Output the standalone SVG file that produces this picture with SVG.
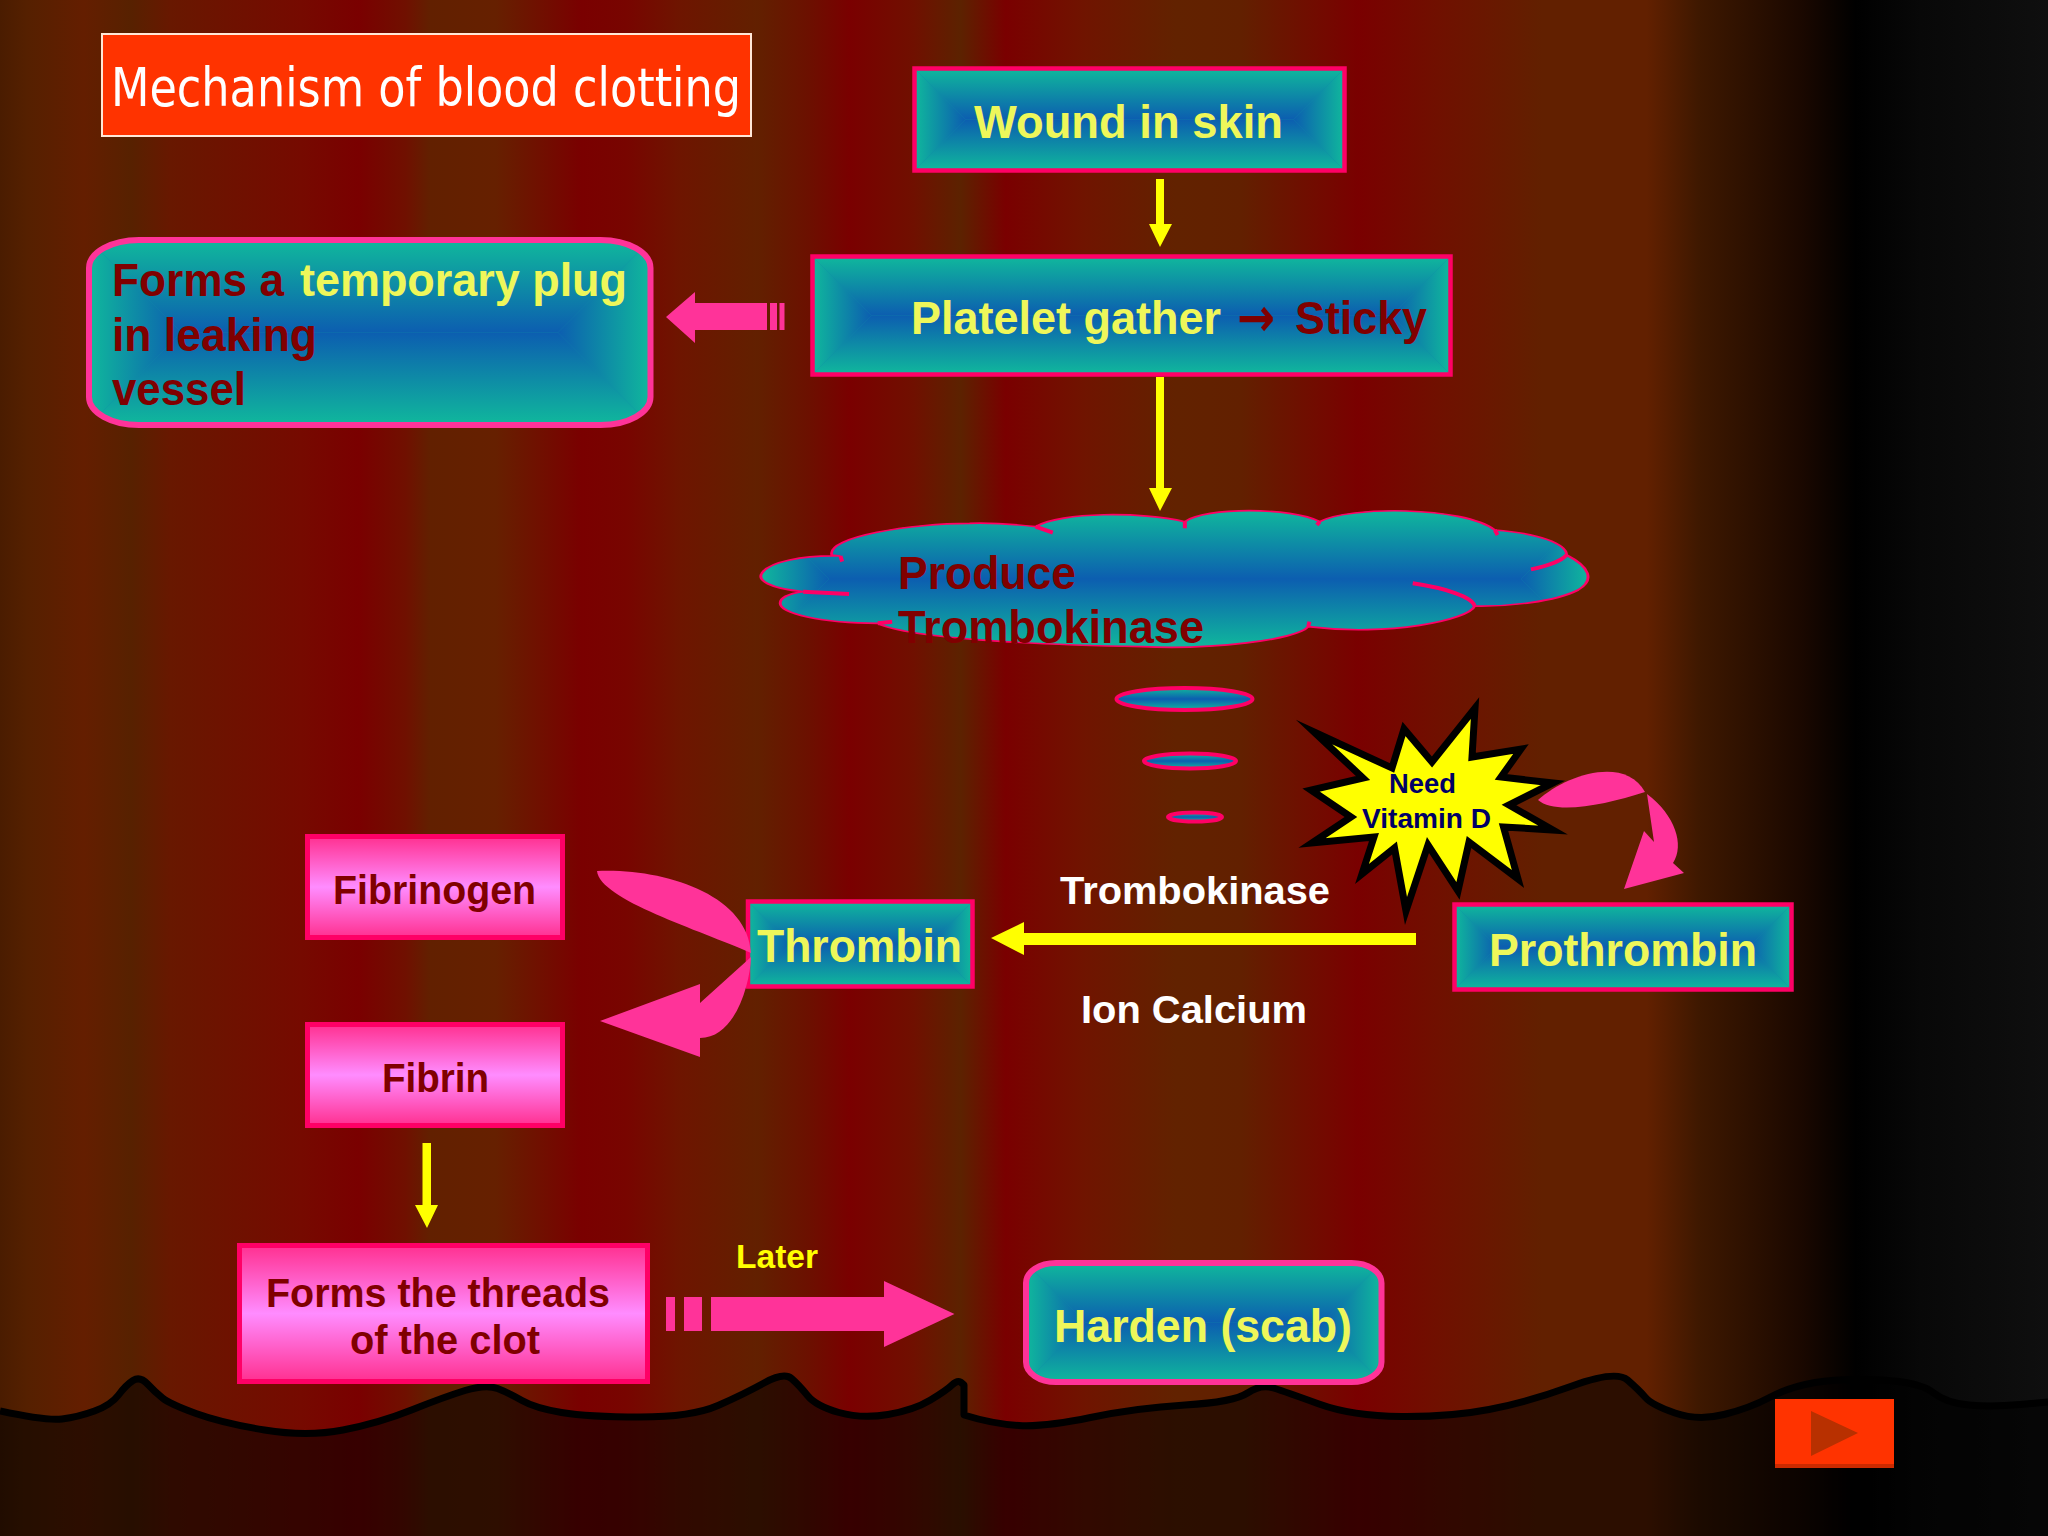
<svg xmlns="http://www.w3.org/2000/svg" width="2048" height="1536" viewBox="0 0 2048 1536">
<defs>
<linearGradient id="bg" x1="0" y1="0" x2="1" y2="0">
<stop offset="0" stop-color="#4a1c00"/><stop offset=".013" stop-color="#552000"/><stop offset=".041" stop-color="#641e00"/><stop offset=".064" stop-color="#572100"/><stop offset=".083" stop-color="#681800"/><stop offset=".147" stop-color="#760a00"/><stop offset=".175" stop-color="#7a0000"/><stop offset=".198" stop-color="#701000"/><stop offset=".21" stop-color="#622000"/><stop offset=".242" stop-color="#662000"/><stop offset=".284" stop-color="#7a0000"/><stop offset=".306" stop-color="#780500"/><stop offset=".332" stop-color="#6e1500"/><stop offset=".37" stop-color="#622000"/><stop offset=".395" stop-color="#6c1000"/><stop offset=".415" stop-color="#7a0000"/><stop offset=".446" stop-color="#701000"/><stop offset=".469" stop-color="#5c2200"/><stop offset=".491" stop-color="#7a0000"/><stop offset=".529" stop-color="#701400"/><stop offset=".574" stop-color="#622200"/><stop offset=".606" stop-color="#622000"/><stop offset=".638" stop-color="#700e00"/><stop offset=".663" stop-color="#7a0000"/><stop offset=".702" stop-color="#701000"/><stop offset=".753" stop-color="#622000"/><stop offset=".804" stop-color="#622000"/><stop offset=".83" stop-color="#3e1800"/><stop offset=".88" stop-color="#1a0800"/><stop offset=".906" stop-color="#000"/><stop offset=".938" stop-color="#080808"/><stop offset="1" stop-color="#0f0f0f"/>
</linearGradient>
<linearGradient id="gT" x1="0" y1="0" x2="0" y2="1"><stop offset="0" stop-color="#10b89c"/><stop offset="1" stop-color="#0c5eb0"/></linearGradient>
<linearGradient id="gB" x1="0" y1="1" x2="0" y2="0"><stop offset="0" stop-color="#10b89c"/><stop offset="1" stop-color="#0c5eb0"/></linearGradient>
<linearGradient id="gL" x1="0" y1="0" x2="1" y2="0"><stop offset="0" stop-color="#10b89c"/><stop offset="1" stop-color="#0c5eb0"/></linearGradient>
<linearGradient id="gR" x1="1" y1="0" x2="0" y2="0"><stop offset="0" stop-color="#10b89c"/><stop offset="1" stop-color="#0c5eb0"/></linearGradient>
<linearGradient id="gV" x1="0" y1="0" x2="0" y2="1"><stop offset="0" stop-color="#10b89c"/><stop offset=".5" stop-color="#0c5eb0"/><stop offset="1" stop-color="#10b89c"/></linearGradient>
<linearGradient id="pk" x1="0" y1="0" x2="0" y2="1"><stop offset="0" stop-color="#ff3090"/><stop offset=".5" stop-color="#ff8cff"/><stop offset="1" stop-color="#ff3090"/></linearGradient>
<path id="cloudShape" transform="translate(740,480) scale(.574,.33333)" d="M160,225 C150,170 300,130 400,130 C440,128 490,135 515,140 C560,95 700,95 775,125 C810,81 960,81 1010,125 C1060,78 1260,78 1315,150 C1390,160 1440,190 1440,225 C1480,260 1490,300 1460,330 C1420,365 1340,380 1280,378 C1270,420 1130,470 990,440 C970,480 820,510 700,500 C550,495 300,480 240,430 C140,430 70,400 70,370 C70,350 90,340 110,335 C50,325 30,300 38,280 C50,245 110,225 175,228 Z"/>
<clipPath id="cloudClip"><use href="#cloudShape"/></clipPath>
<clipPath id="plugClip"><rect x="89" y="240" width="561.5" height="185" rx="50" ry="28"/></clipPath>
<clipPath id="hardenClip"><rect x="1026" y="1263" width="355.5" height="119" rx="30" ry="20"/></clipPath>
</defs>
<style>
.t{fill:url(#gT)}.b{fill:url(#gB)}.l{fill:url(#gL)}.r{fill:url(#gR)}
.base{fill:#0e8ca6}
.edge{fill:none;stroke:#ff0066;stroke-width:4.5}
.pedge{fill:none;stroke:#ff3399;stroke-width:6}
.pink{fill:url(#pk);stroke:#ff0066;stroke-width:5}
.oval{fill:url(#gV);stroke:#ff0066;stroke-width:4}
.yarrow{fill:#ffff00}
.parrow{fill:#ff3399}
text{font-family:"Liberation Sans",Arial,sans-serif;font-weight:700}
.f45{font-size:46px}.f40{font-size:41px}.f38{font-size:39px}.f32{font-size:33px}.f28{font-size:28px}
.y{fill:#eef75a}.m{fill:#800000}.w{fill:#fff}.n{fill:#000066}.yy{fill:#ffff00}
</style>
<rect width="2048" height="1536" fill="url(#bg)"/>
<g id="ground">
<path d="M0,1411 Q46,1421 62,1419 Q78,1417 94.5,1411 Q111,1405 118.5,1395 Q126,1385 133,1380.5 Q140,1376 147.5,1384 Q155,1392 162.5,1398 Q170,1404 196,1413.5 Q222,1423 264.5,1430 Q307,1437 343,1430 Q379,1423 411.5,1410 Q444,1397 465,1390.5 Q486,1384 497.5,1388.5 Q509,1393 522,1400.5 Q535,1408 561.5,1412.5 Q588,1417 640,1417 Q692,1417 718,1405.5 Q744,1394 764,1383 Q784,1372 791.5,1378.5 Q799,1385 807.5,1395.5 Q816,1406 839,1412.5 Q862,1419 888,1414.5 Q914,1410 930.5,1400 Q947,1390 952,1385 Q957,1380 960.5,1382 L964,1385 L964,1415 Q993,1424 1019,1425.5 Q1045,1427 1090.5,1417.5 Q1136,1408 1185,1405 Q1234,1402 1247.5,1393 Q1261,1384 1273.5,1388 Q1286,1392 1319,1404 Q1352,1416 1401,1416.5 Q1450,1417 1489,1409.5 Q1528,1402 1572,1386 Q1616,1370 1627.5,1380 Q1639,1390 1645.5,1397.5 Q1652,1405 1675,1413 Q1698,1421 1724,1414.5 Q1750,1408 1769.5,1397.5 Q1789,1387 1815,1382.5 Q1841,1378 1880.5,1380 Q1920,1382 1933,1392.5 Q1946,1403 1969,1405 Q1992,1407 2020,1404.5 L2048,1402 L2048,1536 L0,1536 Z" fill="#000" fill-opacity=".55"/>
<path d="M0,1411 Q46,1421 62,1419 Q78,1417 94.5,1411 Q111,1405 118.5,1395 Q126,1385 133,1380.5 Q140,1376 147.5,1384 Q155,1392 162.5,1398 Q170,1404 196,1413.5 Q222,1423 264.5,1430 Q307,1437 343,1430 Q379,1423 411.5,1410 Q444,1397 465,1390.5 Q486,1384 497.5,1388.5 Q509,1393 522,1400.5 Q535,1408 561.5,1412.5 Q588,1417 640,1417 Q692,1417 718,1405.5 Q744,1394 764,1383 Q784,1372 791.5,1378.5 Q799,1385 807.5,1395.5 Q816,1406 839,1412.5 Q862,1419 888,1414.5 Q914,1410 930.5,1400 Q947,1390 952,1385 Q957,1380 960.5,1382 L964,1385 L964,1415 Q993,1424 1019,1425.5 Q1045,1427 1090.5,1417.5 Q1136,1408 1185,1405 Q1234,1402 1247.5,1393 Q1261,1384 1273.5,1388 Q1286,1392 1319,1404 Q1352,1416 1401,1416.5 Q1450,1417 1489,1409.5 Q1528,1402 1572,1386 Q1616,1370 1627.5,1380 Q1639,1390 1645.5,1397.5 Q1652,1405 1675,1413 Q1698,1421 1724,1414.5 Q1750,1408 1769.5,1397.5 Q1789,1387 1815,1382.5 Q1841,1378 1880.5,1380 Q1920,1382 1933,1392.5 Q1946,1403 1969,1405 Q1992,1407 2020,1404.5 L2048,1402" fill="none" stroke="#000" stroke-width="7" stroke-linejoin="round"/>
</g>

<g id="title">
<rect x="102" y="34" width="649" height="102" fill="#ff3300" stroke="#ffe8d8" stroke-width="2"/>
<text x="111" y="106" font-size="53" textLength="630" lengthAdjust="spacingAndGlyphs" class="w" style="font-family:'DejaVu Sans',sans-serif;font-weight:400">Mechanism of blood clotting</text>
</g>

<g id="wound">
<rect class="base" x="914.5" y="68.5" width="430" height="102"/>
<polygon class="t" points="914.5,68.5 1344.5,68.5 1293.5,119.5 965.5,119.5"/>
<polygon class="b" points="914.5,170.5 1344.5,170.5 1293.5,119.5 965.5,119.5"/>
<polygon class="l" points="914.5,68.5 965.5,119.5 914.5,170.5"/>
<polygon class="r" points="1344.5,68.5 1293.5,119.5 1344.5,170.5"/>
<rect class="edge" x="914.5" y="68.5" width="430" height="102"/>
<text x="974" y="138" class="f45 y" textLength="309" lengthAdjust="spacingAndGlyphs">Wound in skin</text>
</g>

<g id="platelet">
<rect class="base" x="812.5" y="256.5" width="638" height="118"/>
<polygon class="t" points="812.5,256.5 1450.5,256.5 1391.5,315.5 871.5,315.5"/>
<polygon class="b" points="812.5,374.5 1450.5,374.5 1391.5,315.5 871.5,315.5"/>
<polygon class="l" points="812.5,256.5 871.5,315.5 812.5,374.5"/>
<polygon class="r" points="1450.5,256.5 1391.5,315.5 1450.5,374.5"/>
<rect class="edge" x="812.5" y="256.5" width="638" height="118"/>
<text x="911" y="334" class="f45 y" textLength="310" lengthAdjust="spacingAndGlyphs">Platelet gather</text>
<text x="1237" y="336" font-size="54" class="m" textLength="38" lengthAdjust="spacingAndGlyphs" style="font-family:'DejaVu Sans',sans-serif">→</text>
<text x="1295" y="334" class="f45 m" textLength="132" lengthAdjust="spacingAndGlyphs">Sticky</text>
</g>

<g id="plug">
<g clip-path="url(#plugClip)">
<rect class="base" x="89" y="240" width="561.5" height="185"/>
<polygon class="t" points="89,240 650.5,240 558,332.5 181.5,332.5"/>
<polygon class="b" points="89,425 650.5,425 558,332.5 181.5,332.5"/>
<polygon class="l" points="89,240 181.5,332.5 89,425"/>
<polygon class="r" points="650.5,240 558,332.5 650.5,425"/>
</g>
<rect class="pedge" x="89" y="240" width="561.5" height="185" rx="50" ry="28"/>
<text x="112" y="296" class="f45 m" textLength="172" lengthAdjust="spacingAndGlyphs">Forms a</text>
<text x="300" y="296" class="f45 y" textLength="327" lengthAdjust="spacingAndGlyphs">temporary plug</text>
<text x="112" y="351" class="f45 m" textLength="205" lengthAdjust="spacingAndGlyphs">in leaking</text>
<text x="112" y="405" class="f45 m" textLength="134" lengthAdjust="spacingAndGlyphs">vessel</text>
</g>

<g id="cloud">
<g clip-path="url(#cloudClip)">
<rect class="base" x="760" y="500" width="830" height="148"/>
<polygon class="t" points="760,510 1590,510 1521,579 829,579"/>
<polygon class="b" points="760,648 1590,648 1521,579 829,579"/>
<polygon class="l" points="760,510 829,579 760,648"/>
<polygon class="r" points="1590,510 1521,579 1590,648"/>
</g>
<use href="#cloudShape" fill="none" stroke="#ff0066" stroke-width="5" style="vector-effect:non-scaling-stroke"/>
<path transform="translate(740,480) scale(.574,.33333)" vector-effect="non-scaling-stroke" fill="none" stroke="#ff0066" stroke-width="4" d="M515,140 L545,158 M775,125 L775,145 M1010,125 L1005,135 M1315,150 L1320,165 M1440,225 C1430,245 1400,260 1378,268 M1280,378 C1275,350 1230,325 1172,310 M990,440 L992,425 M240,430 L265,425 M110,335 L190,342 M175,228 L178,245"/>
<text x="898" y="589" class="f45 m" textLength="178" lengthAdjust="spacingAndGlyphs">Produce</text>
<text x="898" y="643" class="f45 m" textLength="306" lengthAdjust="spacingAndGlyphs">Trombokinase</text>
</g>

<g id="droplets">
<ellipse class="oval" cx="1184.5" cy="699" rx="68" ry="11"/>
<ellipse class="oval" cx="1190" cy="761" rx="46" ry="7.5"/>
<ellipse class="oval" cx="1195" cy="817" rx="27" ry="4.5"/>
</g>

<g id="vitamin">
<polygon fill="#ffff00" stroke="#000" stroke-width="7" stroke-miterlimit="12" points="1314,732 1392,768 1404,729 1432,762 1475,708 1472,757 1521,749 1501,777 1553,783 1509,805 1553,830 1503.5,827 1518,879 1469,842 1458,891 1428,845 1406,911 1394.5,848 1362,874 1374,837 1312,843 1351,817 1311,790 1363,778"/>
<text x="1389" y="793" class="f28 n" textLength="67" lengthAdjust="spacingAndGlyphs">Need</text>
<text x="1362" y="828" class="f28 n" textLength="129" lengthAdjust="spacingAndGlyphs">Vitamin D</text>
</g>

<g id="fibrinogen">
<rect class="pink" x="307.5" y="836.5" width="255" height="101"/>
<text x="333" y="904" class="f40 m" textLength="203" lengthAdjust="spacingAndGlyphs">Fibrinogen</text>
</g>
<g id="fibrin">
<rect class="pink" x="307.5" y="1024.5" width="255" height="101"/>
<text x="382" y="1092" class="f40 m" textLength="107" lengthAdjust="spacingAndGlyphs">Fibrin</text>
</g>

<g id="thrombin">
<rect class="base" x="748" y="901.5" width="224.5" height="85"/>
<polygon class="t" points="748,901.5 972.5,901.5 930,944 790.5,944"/>
<polygon class="b" points="748,986.5 972.5,986.5 930,944 790.5,944"/>
<polygon class="l" points="748,901.5 790.5,944 748,986.5"/>
<polygon class="r" points="972.5,901.5 930,944 972.5,986.5"/>
<rect class="edge" x="748" y="901.5" width="224.5" height="85"/>
<text x="757" y="962" class="f45 y" textLength="205" lengthAdjust="spacingAndGlyphs">Thrombin</text>
</g>

<g id="prothrombin">
<rect class="base" x="1454.5" y="904.5" width="337" height="85"/>
<polygon class="t" points="1454.5,904.5 1791.5,904.5 1749,947 1497,947"/>
<polygon class="b" points="1454.5,989.5 1791.5,989.5 1749,947 1497,947"/>
<polygon class="l" points="1454.5,904.5 1497,947 1454.5,989.5"/>
<polygon class="r" points="1791.5,904.5 1749,947 1791.5,989.5"/>
<rect class="edge" x="1454.5" y="904.5" width="337" height="85"/>
<text x="1489" y="966" class="f45 y" textLength="268" lengthAdjust="spacingAndGlyphs">Prothrombin</text>
</g>

<g id="labels">
<text x="1060" y="904" class="f38 w" textLength="270" lengthAdjust="spacingAndGlyphs">Trombokinase</text>
<text x="1081" y="1023" class="f38 w" textLength="226" lengthAdjust="spacingAndGlyphs">Ion Calcium</text>
<text x="736" y="1268" class="f32 yy" textLength="82" lengthAdjust="spacingAndGlyphs">Later</text>
</g>

<g id="threads">
<rect class="pink" x="239.5" y="1245.5" width="408" height="136"/>
<text x="266" y="1307" class="f40 m" textLength="344" lengthAdjust="spacingAndGlyphs">Forms the threads</text>
<text x="350" y="1354" class="f40 m" textLength="190" lengthAdjust="spacingAndGlyphs">of the clot</text>
</g>

<g id="harden">
<g clip-path="url(#hardenClip)">
<rect class="base" x="1026" y="1263" width="355.5" height="119"/>
<polygon class="t" points="1026,1263 1381.5,1263 1322,1322.5 1085.5,1322.5"/>
<polygon class="b" points="1026,1382 1381.5,1382 1322,1322.5 1085.5,1322.5"/>
<polygon class="l" points="1026,1263 1085.5,1322.5 1026,1382"/>
<polygon class="r" points="1381.5,1263 1322,1322.5 1381.5,1382"/>
</g>
<rect class="pedge" x="1026" y="1263" width="355.5" height="119" rx="30" ry="20"/>
<text x="1054" y="1342" class="f45 y" textLength="298" lengthAdjust="spacingAndGlyphs">Harden (scab)</text>
</g>

<g id="next">
<rect x="1775" y="1399" width="119" height="69" fill="#ff3300"/>
<rect x="1775" y="1464" width="119" height="4" fill="#cc2a00"/>
<polygon points="1811,1411 1858,1433 1811,1456" fill="#b83000"/>
</g>

<g id="connectors">
<polygon class="yarrow" points="1156,179 1164,179 1164,224 1172,224 1160,247 1149,224 1156,224"/>
<polygon class="yarrow" points="1156,377 1164,377 1164,488 1172,488 1160,511 1149,488 1156,488"/>
<polygon class="yarrow" points="1416,933 1024,933 1024,922 991,938 1024,955 1024,945 1416,945"/>
<polygon class="yarrow" points="422.5,1143 431,1143 431,1205 438,1205 427,1228 415,1205 422.5,1205"/>
<g class="parrow">
<polygon points="767,303 695,303 695,292 666,317 695,343 695,330 767,330"/>
<rect x="770" y="303" width="7" height="27"/><rect x="779.5" y="303" width="5" height="27"/>
<polygon points="711,1297 884,1297 884,1281 954.5,1314 884,1347 884,1331 711,1331"/>
<rect x="666" y="1297" width="9" height="34"/><rect x="684" y="1297" width="18" height="34"/>
<path d="M597,871 C665,868 748,895 751,953 C700,930 600,900 597,871Z"/>
<path d="M751,957 L700,1003 L700,984 L600,1021 L700,1057 L700,1038 C735,1038 750,985 751,957Z"/>
<path d="M1538,800 C1565,775 1625,755 1645,792 C1605,805 1555,815 1538,800Z"/>
<path d="M1647,794 L1654,842 L1644,831 L1624,889 L1684,873 L1673,863 C1685,845 1675,815 1647,794Z"/>
</g>
</g>
</svg>
